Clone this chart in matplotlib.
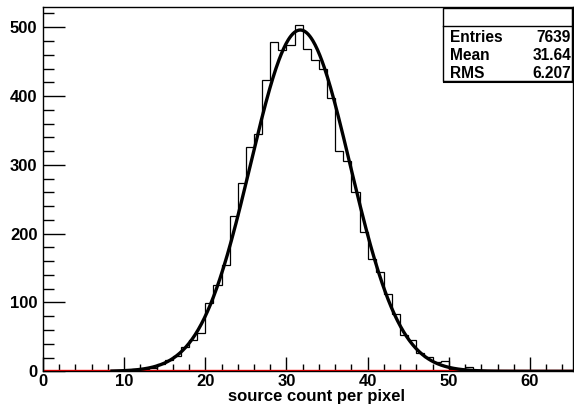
import matplotlib
matplotlib.use("Agg")
import matplotlib.pyplot as plt
from matplotlib.patches import Rectangle
from matplotlib.lines import Line2D
from matplotlib.ticker import MultipleLocator
import numpy as np

plt.rcParams['font.family'] = ['Liberation Sans', 'DejaVu Sans']

# histogram: unit bins from 0 to 65
bin_edges = list(range(0, 66))
counts = [0, 0, 0, 0, 0, 0, 0, 0, 0, 1,
          1, 4, 4, 5, 10, 16, 22, 36, 46, 55,
          99, 125, 154, 226, 274, 326, 345, 423, 478, 467,
          474, 503, 469, 452, 439, 397, 320, 305, 261, 203,
          163, 145, 113, 84, 53, 45, 27, 21, 14, 15,
          4, 3, 6, 2, 1, 1, 1, 0, 0, 0,
          0, 0, 0, 0, 0]

# gaussian fit parameters and fit range
fit_const = 496.0
fit_mean = 31.7
fit_sigma = 6.13
fit_range = (8.5, 65.3)

stat_labels = ["Entries", "Mean", "RMS"]
stat_values = ["7639", "31.64", "6.207"]

W, H = 574, 409
fig = plt.figure(figsize=(W / 100, H / 100), dpi=100)
fig.patch.set_facecolor("white")


def fx(px):
    return px / W


def fy(py):
    return 1 - py / H


ax = fig.add_axes([fx(43), fy(371.3), fx(573) - fx(43), fy(7.3) - fy(371.3)])

ax.stairs(counts, bin_edges, color="black", linewidth=0.9, zorder=2)
ax.axhline(1.2, color="#ff0000", linewidth=1.0, zorder=2.5)
xs = np.linspace(fit_range[0], fit_range[1], 600)
ax.plot(xs, fit_const * np.exp(-0.5 * ((xs - fit_mean) / fit_sigma) ** 2),
        color="black", linewidth=2.4, zorder=3)

ax.set_xlim(0, 65.3)
ax.set_ylim(0, 529)
ax.xaxis.set_major_locator(MultipleLocator(10))
ax.xaxis.set_minor_locator(MultipleLocator(2))
ax.yaxis.set_major_locator(MultipleLocator(100))
ax.yaxis.set_minor_locator(MultipleLocator(20))
ax.tick_params(axis="both", which="both", direction="in", top=False, right=False)
ax.tick_params(axis="x", which="major", length=10, width=1, labelsize=12, pad=2)
ax.tick_params(axis="x", which="minor", length=5, width=1)
ax.tick_params(axis="y", which="major", length=16, width=1, labelsize=12, pad=4)
ax.tick_params(axis="y", which="minor", length=8, width=1)
for lab in ax.get_xticklabels() + ax.get_yticklabels():
    lab.set_fontweight("bold")
for sp in ax.spines.values():
    sp.set_linewidth(1.0)

# axis title, right-aligned as in ROOT
fig.text(fx(405), fy(396), "source count per pixel", fontsize=12,
         fontweight="bold", ha="right", va="center")

# stats box
bl, br, bt, bb = 443, 572, 7.5, 80.5
fig.patches.append(Rectangle((fx(bl), fy(bb)), fx(br) - fx(bl), fy(bt) - fy(bb),
                             transform=fig.transFigure, facecolor="white",
                             edgecolor="black", linewidth=1.0, zorder=5))
fig.lines.append(Line2D([fx(bl + 1), fx(br + 1)], [fy(bb + 1), fy(bb + 1)],
                        transform=fig.transFigure, color="black", linewidth=1.5, zorder=6))
fig.lines.append(Line2D([fx(br + 1), fx(br + 1)], [fy(bb + 1), fy(bt + 1)],
                        transform=fig.transFigure, color="black", linewidth=1.5, zorder=6))
fig.lines.append(Line2D([fx(bl), fx(br)], [fy(26), fy(26)],
                        transform=fig.transFigure, color="black", linewidth=1.0, zorder=6))
row_y = [37.3, 55.5, 73.5]
for lab, val, ry in zip(stat_labels, stat_values, row_y):
    fig.text(fx(450), fy(ry), lab, fontsize=11.2, fontweight="bold",
             ha="left", va="center", zorder=7)
    fig.text(fx(571), fy(ry), val, fontsize=11.2, fontweight="bold",
             ha="right", va="center", zorder=7)

fig.savefig("out.png", dpi=100)
